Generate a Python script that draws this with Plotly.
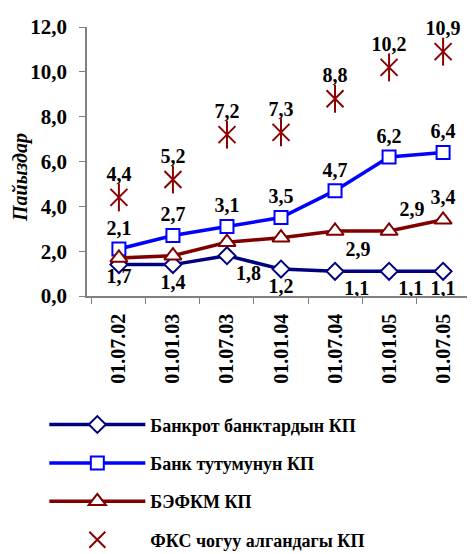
import plotly.graph_objects as go

dates = ['01.07.02', '01.01.03', '01.07.03', '01.01.04', '01.07.04', '01.01.05', '01.07.05']

bankrupt = [1.4, 1.4, 1.8, 1.2, 1.1, 1.1, 1.1]
system = [2.1, 2.7, 3.1, 3.5, 4.7, 6.2, 6.4]
befkm = [1.7, 1.8, 2.4, 2.6, 2.9, 2.9, 3.4]
fks = [4.4, 5.2, 7.2, 7.3, 8.8, 10.2, 10.9]

# which points carry a value label in the original
bankrupt_show = [False, True, True, True, True, True, True]
befkm_show = [True, False, False, False, True, True, True]

names = ['Банкрот банктардын КП', 'Банк тутумунун КП', 'БЭФКМ КП', 'ФКС чогуу алгандагы КП']


def fmt(v):
    return f'{v:.1f}'.replace('.', ',')


def labels(vals, show=None):
    if show is None:
        show = [True] * len(vals)
    return [fmt(v) if s else '' for v, s in zip(vals, show)]


FONT = 'Liberation Serif, Times New Roman, serif'
lab_font = dict(family=FONT, size=20, color='black')
STAR = '#8B0000'

fig = go.Figure()

fig.add_trace(go.Scatter(
    x=dates, y=bankrupt, name=names[0], legendgroup='a',
    mode='lines+markers+text',
    text=labels(bankrupt, bankrupt_show),
    textposition=['bottom center', 'bottom center', 'bottom right', 'bottom center',
                  'bottom right', 'bottom right', 'bottom center'],
    textfont=lab_font,
    line=dict(color='#000080', width=3.5),
    marker=dict(symbol='diamond', size=13, color='white', line=dict(color='#000080', width=2)),
    cliponaxis=False
))

fig.add_trace(go.Scatter(
    x=dates, y=system, name=names[1], legendgroup='b',
    mode='lines+markers+text',
    text=labels(system), textposition='top center', textfont=lab_font,
    line=dict(color='#0000FF', width=3.5),
    marker=dict(symbol='square', size=13, color='white', line=dict(color='#0000FF', width=2)),
    cliponaxis=False
))

fig.add_trace(go.Scatter(
    x=dates, y=befkm, name=names[2], legendgroup='c',
    mode='lines+markers+text',
    text=labels(befkm, befkm_show),
    textposition=['bottom center', 'top center', 'top center', 'top center',
                  'bottom right', 'top right', 'top center'],
    textfont=lab_font,
    line=dict(color='#800000', width=3.5),
    marker=dict(symbol='triangle-up', size=15, color='white', line=dict(color='#800000', width=2)),
    cliponaxis=False
))

# star marker: X plus a vertical stroke
fig.add_trace(go.Scatter(
    x=dates, y=fks, name=names[3], legendgroup='d',
    mode='markers+text',
    text=labels(fks), textposition='top center', textfont=lab_font,
    marker=dict(symbol='x-thin-open', size=17, color=STAR, line=dict(color=STAR, width=2)),
    cliponaxis=False
))
fig.add_trace(go.Scatter(
    x=dates, y=fks, showlegend=False, legendgroup='d', hoverinfo='skip',
    mode='markers',
    marker=dict(symbol='line-ns-open', size=20, color=STAR, line=dict(color=STAR, width=2)),
    cliponaxis=False
))

# the page body adds an 8px offset, so the figure is 8px smaller than the window
fig.update_layout(
    width=467, height=546,
    paper_bgcolor='white', plot_bgcolor='white',
    margin=dict(l=79, r=0, t=19, b=258, autoexpand=False),
    font=dict(family=FONT, size=20, color='black'),
    showlegend=True,
    legend=dict(
        x=-0.11, y=-0.41, xanchor='left', yanchor='top',
        font=dict(family=FONT, size=18, color='black', weight='bold'),
        itemwidth=96, tracegroupgap=12, bgcolor='rgba(0,0,0,0)'
    ),
    annotations=[dict(
        text='<b><i>Пайыздар</i></b>', xref='paper', yref='paper',
        x=-0.173, y=0.442, xanchor='center', yanchor='middle',
        textangle=-90, showarrow=False,
        font=dict(family=FONT, size=20, color='black')
    )]
)

fig.update_xaxes(
    type='category', showline=True, linecolor='#808080', linewidth=1.5,
    ticks='outside', tickson='boundaries', ticklen=6, tickcolor='#808080',
    tickangle=-90, showgrid=False, automargin=False, ticklabelstandoff=8,
    tickfont=dict(family=FONT, size=20, color='black', weight='bold')
)

fig.update_yaxes(
    range=[0, 12], tickvals=[0, 2, 4, 6, 8, 10, 12],
    ticktext=[fmt(v) for v in [0, 2, 4, 6, 8, 10, 12]],
    showline=True, linecolor='#808080', linewidth=1.5,
    ticks='outside', ticklen=6, tickcolor='#808080', showgrid=False, zeroline=False,
    automargin=False, ticklabelstandoff=8,
    tickfont=dict(family=FONT, size=21, color='black', weight='bold')
)

fig.update_traces(textfont_weight='bold')

fig.write_html('out.html')
